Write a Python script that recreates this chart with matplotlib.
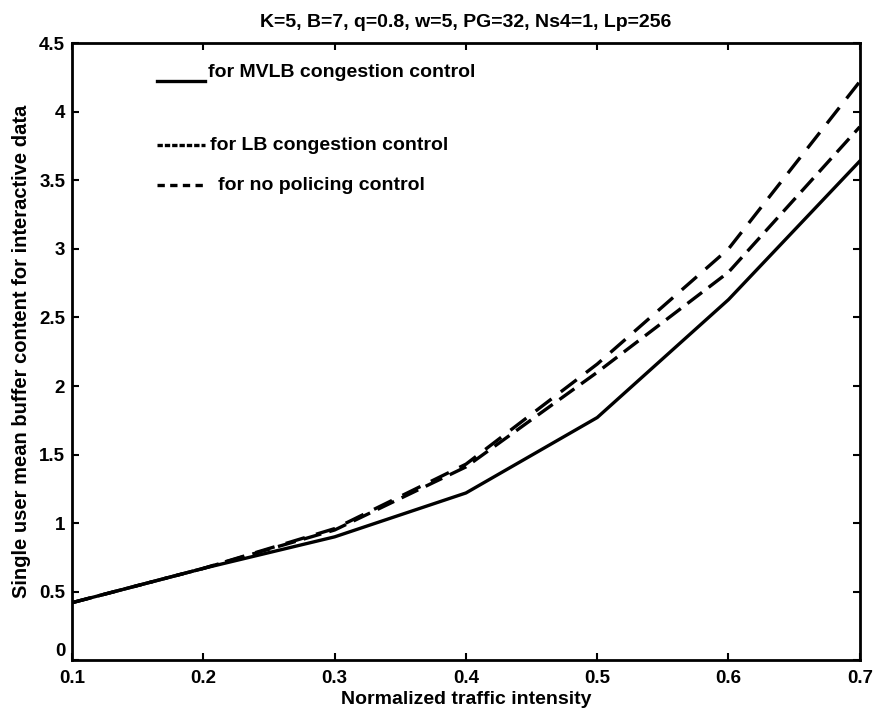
import matplotlib
matplotlib.use("Agg")
import matplotlib.pyplot as plt
from matplotlib.lines import Line2D

plt.rcParams['font.family'] = ['Liberation Sans', 'DejaVu Sans']
plt.rcParams['font.weight'] = 'bold'

intensity = [0.1, 0.2, 0.3, 0.4, 0.5, 0.6, 0.7]
mvlb = [0.42, 0.67, 0.90, 1.22, 1.77, 2.63, 3.64]
lb = [0.42, 0.67, 0.95, 1.41, 2.10, 2.83, 3.89]
no_policing = [0.42, 0.67, 0.96, 1.43, 2.16, 3.00, 4.22]

title = "K=5, B=7, q=0.8, w=5, PG=32, Ns4=1, Lp=256"
xlabel = "Normalized traffic intensity"
ylabel = "Single user mean buffer content for interactive data"
labels = ["for MVLB congestion control", "for LB congestion control", "for no policing control"]
xticks = [0.1, 0.2, 0.3, 0.4, 0.5, 0.6, 0.7]
yticks = [0, 0.5, 1, 1.5, 2, 2.5, 3, 3.5, 4, 4.5]
ytick_labels = ["0", "0.5", "1", "1.5", "2", "2.5", "3", "3.5", "4", "4.5"]

fig = plt.figure(figsize=(8.8, 7.2), dpi=100)
ax = fig.add_axes([0.082, 0.083, 0.895, 0.857])

lw = 2.4
ax.plot(intensity, mvlb, color='black', lw=lw, ls='-')
ax.plot(intensity, lb, color='black', lw=lw, ls=(0, (5.5, 2.5)))
ax.plot(intensity, no_policing, color='black', lw=lw, ls=(0, (6, 3.5)))

ax.set_xlim(0.1, 0.7)
ax.set_ylim(0, 4.5)
ax.set_xticks(xticks)
ax.set_xticklabels([f"{v:.1f}" for v in xticks])
ax.set_yticks(yticks)
ax.set_yticklabels(ytick_labels)
ax.tick_params(direction='in', top=True, right=True, labelsize=13.5, length=5, width=1.5)
ax.tick_params(axis='x', pad=7)
ax.tick_params(axis='y', pad=5)
# lift the "0" y-label slightly so it sits above the "0.1" x-label, as in the reference
ax.get_yticklabels()[0].set_va('bottom')
for s in ax.spines.values():
    s.set_linewidth(2)

ax.set_xlabel(xlabel, fontsize=14, labelpad=3, fontweight='bold')
ax.set_ylabel(ylabel, fontsize=14.5, labelpad=6, fontweight='bold')
ax.set_title(title, fontsize=14, pad=12, fontweight='bold')

# manual legend (samples + text) in axes coordinates
leg_y = [0.953, 0.835, 0.770]
styles = ['-', (0, (1.6, 0.6)), (0, (2.2, 1.6))]
offs = [-0.014, 0, 0]
text_x = [0.173, 0.175, 0.185]
for yy, st, lab, off, tx in zip(leg_y, styles, labels, offs, text_x):
    ax.add_line(Line2D([0.108, 0.169], [yy + off, yy + off], transform=ax.transAxes,
                       color='black', lw=lw, ls=st))
    ax.text(tx, yy, lab, transform=ax.transAxes, fontsize=14, va='center', ha='left')

fig.savefig("out.png", dpi=100)
